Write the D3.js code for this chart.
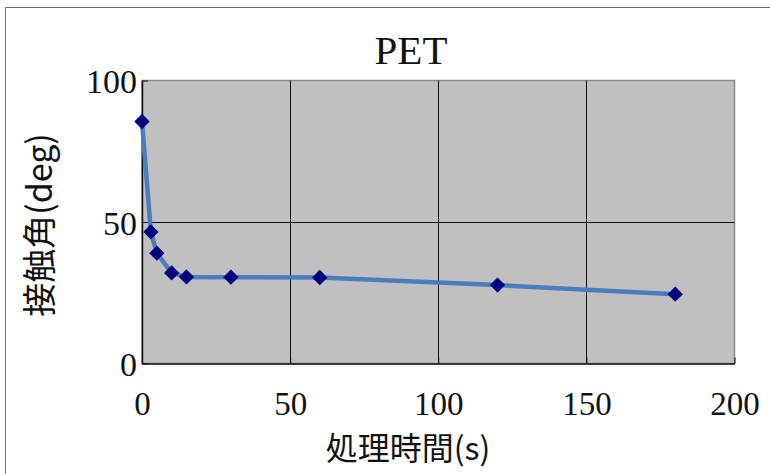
<!DOCTYPE html>
<html><head><meta charset="utf-8">
<script src="https://cdn.jsdelivr.net/npm/d3@7"></script>
<style>
html,body{margin:0;padding:0;background:#fff;}
svg{display:block;}
</style></head>
<body>
<svg id="c" width="770" height="474"></svg>
<script>
const title = "PET";
const xLabel = "処理時間(s)";
const yLabel = "接触角(deg)";
const times = [0, 3, 5, 10, 15, 30, 60, 120, 180];
const angles = [85.5, 46.5, 39, 32, 30.6, 30.5, 30.4, 27.7, 24.5];
const xTicks = [0, 50, 100, 150, 200];
const yTicks = [0, 50, 100];

const svg = d3.select("#c");
const L = 142, R = 734.5, T = 80.5, B = 363.5;
const x = d3.scaleLinear().domain([0, 200]).range([L, R]);
const y = d3.scaleLinear().domain([0, 100]).range([B, T]);
const serif = "'Liberation Serif','DejaVu Serif',serif";
const cjk = "'Noto Sans CJK JP','Liberation Serif',sans-serif";

// outer frame
svg.append("rect").attr("x", 5.5).attr("y", 7.5).attr("width", 800).attr("height", 500)
  .attr("fill", "#fff").attr("stroke", "#6e6e6e").attr("stroke-width", 1);

// plot area
svg.append("rect").attr("x", L).attr("y", T).attr("width", R - L).attr("height", B - T)
  .attr("fill", "#c0c0c0").attr("stroke", "#8a8a8a").attr("stroke-width", 1.5);

// gridlines
const grid = svg.append("g").attr("stroke", "#111").attr("stroke-width", 1);
grid.selectAll("line.gx").data(xTicks.filter(d => d > 0 && d < 200)).join("line")
  .attr("x1", d => Math.round(x(d)) + 0.5).attr("x2", d => Math.round(x(d)) + 0.5)
  .attr("y1", T).attr("y2", B);
grid.selectAll("line.gy").data(yTicks.filter(d => d > 0 && d < 100)).join("line")
  .attr("x1", L).attr("x2", R)
  .attr("y1", d => Math.round(y(d)) + 0.5).attr("y2", d => Math.round(y(d)) + 0.5);

// axes
const xAxis = d3.axisBottom(x).tickValues(xTicks).tickSize(-6).tickSizeOuter(0).tickFormat(d3.format("d"));
const gx = svg.append("g").attr("transform", `translate(0,${B})`).call(xAxis);
gx.select(".domain").attr("stroke", "#111").attr("stroke-width", 1.5);
gx.selectAll(".tick line").attr("stroke", "#111");
gx.selectAll("text").attr("font-family", serif).attr("font-size", 33).attr("fill", "#111").attr("dy", "0.72em").attr("y", 28);

const yAxis = d3.axisLeft(y).tickValues(yTicks).tickSize(-6).tickSizeOuter(0).tickFormat(d3.format("d"));
const gy = svg.append("g").attr("transform", `translate(${L},0)`).call(yAxis);
gy.select(".domain").attr("stroke", "#111").attr("stroke-width", 1.5);
gy.selectAll(".tick line").attr("stroke", "#111");
gy.selectAll("text").attr("font-family", serif).attr("font-size", 34).attr("fill", "#111")
  .attr("x", -5).attr("dy", "0.36em");

// line
const line = d3.line().x((d, i) => x(times[i])).y(d => y(d));
svg.append("path").datum(angles).attr("d", line)
  .attr("fill", "none").attr("stroke", "#4a7ebb").attr("stroke-width", 4.5).attr("stroke-linejoin", "round");

// markers
svg.selectAll("path.m").data(angles).join("path").attr("class", "m")
  .attr("d", d3.symbol(d3.symbolDiamond2, 150)())
  .attr("transform", (d, i) => `translate(${x(times[i])},${y(d)})`)
  .attr("fill", "#000080");

// title
svg.append("text").attr("x", 411).attr("y", 64).attr("text-anchor", "middle")
  .attr("font-family", serif).attr("font-size", 41).attr("fill", "#111").text(title);

// x label
svg.append("text").attr("x", 408).attr("y", 460).attr("text-anchor", "middle")
  .attr("font-family", cjk).attr("font-size", 32).attr("fill", "#111").text(xLabel);

// y label
svg.append("text").attr("transform", "translate(52,225) rotate(-90)").attr("text-anchor", "middle")
  .attr("font-family", cjk).attr("font-size", 34).attr("fill", "#111").text(yLabel);
</script>
</body></html>
